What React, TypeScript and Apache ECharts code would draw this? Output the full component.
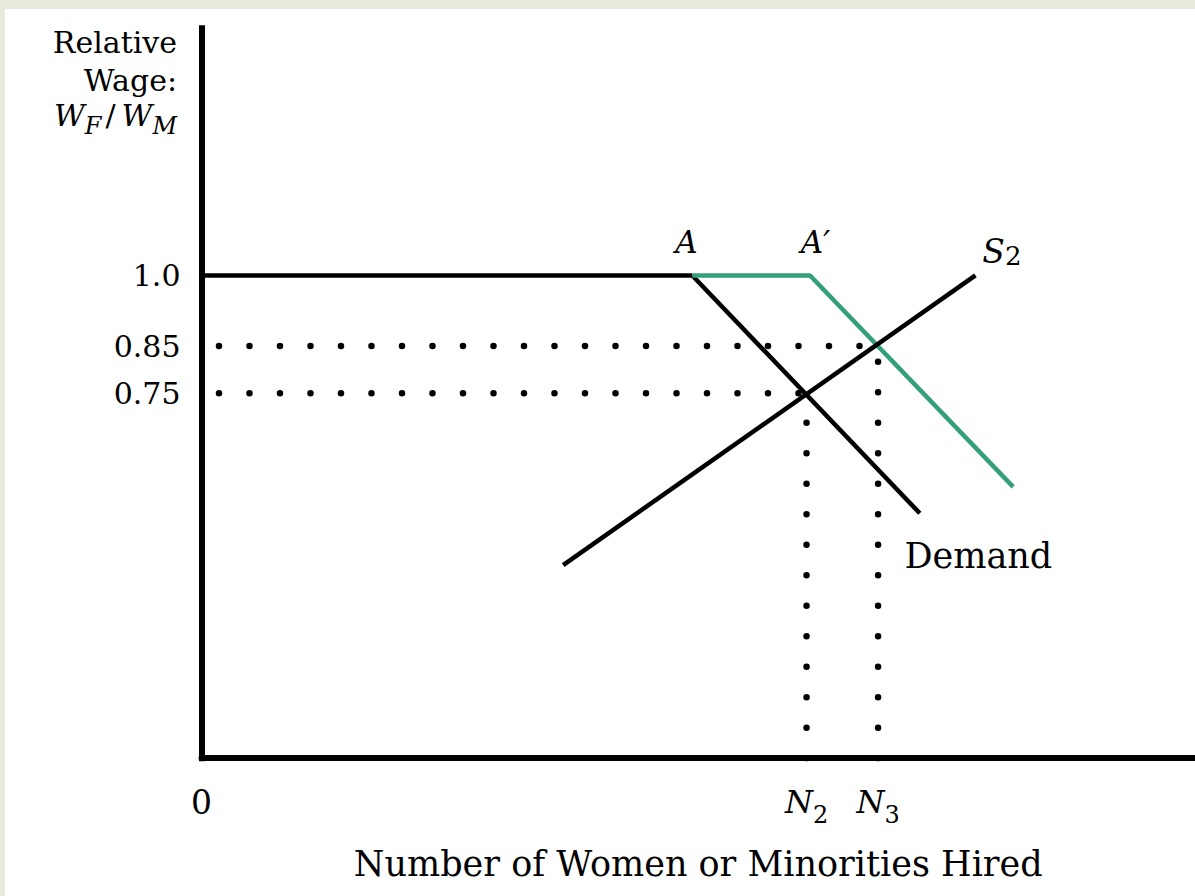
import React, { useEffect, useRef } from "react";
import * as echarts from "echarts";

// ---- data ----
const X_MIN = 0;
const X_MAX = 100;
const Y_MIN = -0.025;
const Y_MAX = 1.525;

const wageTicks = [0.75, 0.85, 1.0];
const wageTickLabels = ["0.75", "0.85", "1.0"];

const N2 = 60.9;
const N3 = 68.1;
const W2 = 0.75;
const W3 = 0.85;
const hiredTicks = [0, N2, N3];
const hiredTickLabels = ["{z|0}", "{i|N}{s|2}", "{i|N}{s|3}"];

const pointA = [49.4, 1.0];
const pointAPrime = [61.25, 1.0];
const flatWage = [[0, 1.0], pointA];
const demand = [pointA, [72.3, 0.495]];
const demandShift = [pointA, pointAPrime, [81.7, 0.551]];
const supplyS2 = [[36.4, 0.385], [77.9, 1.0]];
const dotStartX = 1.76;

const FONT = '"DejaVu Serif", "Liberation Serif", serif';
const BLACK = "#000000";
const GREEN = "#33a07a";
const CREAM = "#e9eadd";

const tickIndex = (arr: number[], v: number) =>
  arr.findIndex((t) => Math.abs(t - v) < 1e-6);

export default function App() {
  const ref = useRef<HTMLDivElement>(null);

  useEffect(() => {
    if (!ref.current) return;
    const chart = echarts.init(ref.current, null, { renderer: "svg" });

    const solid = (color: string, width: number) => ({
      type: "line" as const,
      symbol: "circle",
      symbolSize: 1,
      showSymbol: true,
      itemStyle: { color: "rgba(0,0,0,0)" },
      lineStyle: { color, width, type: "solid" as const },
      silent: true,
      emphasis: { disabled: true },
      animation: false,
      z: 3,
    });
    const dotted = (data: number[][]) => ({
      type: "line" as const,
      symbol: "none",
      data,
      lineStyle: { color: BLACK, width: 6.5, type: [0, 30.5], cap: "round" as const },
      silent: true,
      emphasis: { disabled: true },
      animation: false,
      z: 2,
    });

    const italicRich = {
      i: { fontFamily: FONT, fontStyle: "italic", fontSize: 31, lineHeight: 31, verticalAlign: "top", color: BLACK },
    };

    chart.setOption({
      animation: false,
      backgroundColor: CREAM,
      graphic: [
        {
          type: "rect",
          shape: { x: 5, y: 9, width: 1190, height: 887 },
          style: { fill: "#ffffff" },
          z: -10,
          silent: true,
        },
      ],
      grid: { left: 201.5, top: 28.2, width: 993.5, height: 730, containLabel: false },
      xAxis: {
        type: "value",
        min: X_MIN,
        max: X_MAX,
        axisLine: { show: true, onZero: false, lineStyle: { color: BLACK, width: 6 } },
        axisTick: { show: false },
        splitLine: { show: false },
        axisLabel: {
          customValues: hiredTicks,
          showMinLabel: true,
          margin: 28.1,
          color: BLACK,
          fontFamily: FONT,
          fontSize: 30,
          lineHeight: 30,
          verticalAlign: "top",
          formatter: (v: number) => {
            const i = tickIndex(hiredTicks, v);
            return i >= 0 ? hiredTickLabels[i] : "";
          },
          rich: {
            z: { fontFamily: FONT, fontSize: 33, lineHeight: 30, verticalAlign: "top", color: BLACK },
            i: { fontFamily: FONT, fontStyle: "italic", fontSize: 32, lineHeight: 32, verticalAlign: "top", color: BLACK },
            s: { fontFamily: FONT, fontSize: 24, lineHeight: 40.4, verticalAlign: "bottom", color: BLACK },
          },
        },
        name: "Number of Women or Minorities Hired",
        nameLocation: "middle",
        nameGap: 88.4,
        nameTextStyle: { fontFamily: FONT, fontSize: 35, lineHeight: 35, color: BLACK },
      },
      yAxis: {
        type: "value",
        min: Y_MIN,
        max: Y_MAX,
        axisLine: { show: true, onZero: false, lineStyle: { color: BLACK, width: 6, cap: "square" } },
        axisTick: { show: false },
        splitLine: { show: false },
        axisLabel: {
          customValues: wageTicks,
          margin: 21,
          color: BLACK,
          fontFamily: FONT,
          fontSize: 30,
          formatter: (v: number) => {
            const i = tickIndex(wageTicks, v);
            return i >= 0 ? wageTickLabels[i] : "";
          },
        },
        name: "{a|Relative}\n{b|Wage:}\n{i|W}{s|F}{r|/}{i|W}{s|M}",
        nameLocation: "end",
        nameGap: 2.6,
        nameTextStyle: {
          align: "right",
          verticalAlign: "top",
          padding: [0, 24.5, 0, 0],
          fontFamily: FONT,
          color: BLACK,
          rich: {
            a: { fontFamily: FONT, fontSize: 30, lineHeight: 34, color: BLACK },
            b: { fontFamily: FONT, fontSize: 30, lineHeight: 41, color: BLACK },
            i: { fontFamily: FONT, fontStyle: "italic", fontSize: 30, lineHeight: 26, verticalAlign: "top", color: BLACK },
            s: { fontFamily: FONT, fontStyle: "italic", fontSize: 24, lineHeight: 37.1, verticalAlign: "bottom", color: BLACK },
            r: { fontFamily: FONT, fontSize: 30, lineHeight: 26, verticalAlign: "top", color: BLACK, padding: [0, 6, 0, 4] },
          },
        },
      },
      series: [
        dotted([[dotStartX, W3], [N3, W3]]),
        dotted([[dotStartX, W2], [N2, W2]]),
        dotted([[N2, Y_MIN], [N2, W2]]),
        dotted([[N3, Y_MIN], [N3, W3]]),
        { ...solid(BLACK, 4.5), data: flatWage },
        {
          ...solid(BLACK, 4.5),
          data: [
            {
              value: demand[0],
              label: {
                show: true,
                position: [-5.3, -48.5],
                align: "center",
                verticalAlign: "top",
                formatter: "{i|A}",
                rich: italicRich,
              },
            },
            {
              value: demand[1],
              label: {
                show: true,
                position: [-14.8, 25.4],
                align: "left",
                verticalAlign: "top",
                formatter: "Demand",
                fontFamily: FONT,
                fontSize: 35,
                lineHeight: 35,
                color: BLACK,
              },
            },
          ],
        },
        {
          ...solid(GREEN, 4.5),
          z: 4,
          data: [
            { value: demandShift[0] },
            {
              value: demandShift[1],
              label: {
                show: true,
                position: [6, -48.5],
                align: "center",
                verticalAlign: "top",
                formatter: "{i|A′}",
                rich: italicRich,
              },
            },
            { value: demandShift[2] },
          ],
        },
        {
          ...solid(BLACK, 4.5),
          z: 5,
          data: [
            { value: supplyS2[0] },
            {
              value: supplyS2[1],
              label: {
                show: true,
                position: [27, -40.4],
                align: "center",
                verticalAlign: "top",
                formatter: "{j|S}{t|2}",
                rich: {
                  j: { fontFamily: FONT, fontStyle: "italic", fontSize: 33, lineHeight: 33, verticalAlign: "top", color: BLACK },
                  t: { fontFamily: FONT, fontSize: 26, lineHeight: 34.4, verticalAlign: "bottom", color: BLACK },
                },
              },
            },
          ],
        },
      ],
    });

    return () => chart.dispose();
  }, []);

  return (
    <div
      ref={ref}
      style={{ position: "fixed", left: 0, top: 0, width: 1195, height: 896 }}
    />
  );
}
